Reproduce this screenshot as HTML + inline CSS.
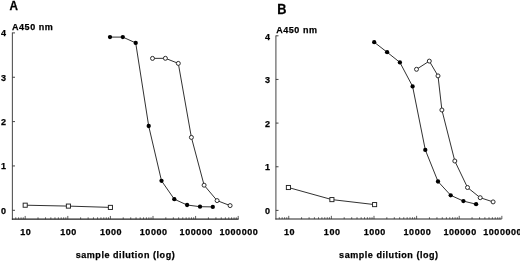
<!DOCTYPE html>
<html><head><meta charset="utf-8"><style>
html,body{margin:0;padding:0;background:#fff;}
svg{display:block;filter:grayscale(1);}
text{font-family:"Liberation Sans", sans-serif;font-weight:bold;fill:#000;stroke:#000;stroke-width:0.25px;}
</style></head><body>
<svg width="520" height="261" viewBox="0 0 520 261">
<rect width="520" height="261" fill="#fff"/>
<line x1="12.40" y1="32.60" x2="12.40" y2="219.65" stroke="#555" stroke-width="1.1"/>
<line x1="11.90" y1="219.15" x2="238.60" y2="219.15" stroke="#222" stroke-width="1.1"/>
<line x1="12.40" y1="210.30" x2="15.00" y2="210.30" stroke="#333" stroke-width="0.9"/>
<text x="6.00" y="213.60" font-size="9.0" text-anchor="end" letter-spacing="0">0</text>
<line x1="12.40" y1="165.95" x2="15.00" y2="165.95" stroke="#333" stroke-width="0.9"/>
<text x="6.00" y="169.25" font-size="9.0" text-anchor="end" letter-spacing="0">1</text>
<line x1="12.40" y1="121.60" x2="15.00" y2="121.60" stroke="#333" stroke-width="0.9"/>
<text x="6.00" y="124.90" font-size="9.0" text-anchor="end" letter-spacing="0">2</text>
<line x1="12.40" y1="77.25" x2="15.00" y2="77.25" stroke="#333" stroke-width="0.9"/>
<text x="6.00" y="80.55" font-size="9.0" text-anchor="end" letter-spacing="0">3</text>
<line x1="12.40" y1="32.90" x2="15.00" y2="32.90" stroke="#333" stroke-width="0.9"/>
<text x="6.00" y="36.20" font-size="9.0" text-anchor="end" letter-spacing="0">4</text>
<line x1="15.75" y1="219.15" x2="15.75" y2="217.35" stroke="#333" stroke-width="0.8"/>
<line x1="18.60" y1="219.15" x2="18.60" y2="217.35" stroke="#333" stroke-width="0.8"/>
<line x1="21.07" y1="219.15" x2="21.07" y2="217.35" stroke="#333" stroke-width="0.8"/>
<line x1="23.25" y1="219.15" x2="23.25" y2="217.35" stroke="#333" stroke-width="0.8"/>
<line x1="25.20" y1="219.15" x2="25.20" y2="215.95" stroke="#333" stroke-width="0.8"/>
<line x1="38.02" y1="219.15" x2="38.02" y2="217.35" stroke="#333" stroke-width="0.8"/>
<line x1="45.53" y1="219.15" x2="45.53" y2="217.35" stroke="#333" stroke-width="0.8"/>
<line x1="50.85" y1="219.15" x2="50.85" y2="217.35" stroke="#333" stroke-width="0.8"/>
<line x1="54.98" y1="219.15" x2="54.98" y2="217.35" stroke="#333" stroke-width="0.8"/>
<line x1="58.35" y1="219.15" x2="58.35" y2="217.35" stroke="#333" stroke-width="0.8"/>
<line x1="61.20" y1="219.15" x2="61.20" y2="217.35" stroke="#333" stroke-width="0.8"/>
<line x1="63.67" y1="219.15" x2="63.67" y2="217.35" stroke="#333" stroke-width="0.8"/>
<line x1="65.85" y1="219.15" x2="65.85" y2="217.35" stroke="#333" stroke-width="0.8"/>
<text x="25.88" y="235.30" font-size="9.0" text-anchor="middle" letter-spacing="0.55">10</text>
<line x1="67.80" y1="219.15" x2="67.80" y2="215.95" stroke="#333" stroke-width="0.8"/>
<line x1="80.62" y1="219.15" x2="80.62" y2="217.35" stroke="#333" stroke-width="0.8"/>
<line x1="88.13" y1="219.15" x2="88.13" y2="217.35" stroke="#333" stroke-width="0.8"/>
<line x1="93.45" y1="219.15" x2="93.45" y2="217.35" stroke="#333" stroke-width="0.8"/>
<line x1="97.58" y1="219.15" x2="97.58" y2="217.35" stroke="#333" stroke-width="0.8"/>
<line x1="100.95" y1="219.15" x2="100.95" y2="217.35" stroke="#333" stroke-width="0.8"/>
<line x1="103.80" y1="219.15" x2="103.80" y2="217.35" stroke="#333" stroke-width="0.8"/>
<line x1="106.27" y1="219.15" x2="106.27" y2="217.35" stroke="#333" stroke-width="0.8"/>
<line x1="108.45" y1="219.15" x2="108.45" y2="217.35" stroke="#333" stroke-width="0.8"/>
<text x="68.48" y="235.30" font-size="9.0" text-anchor="middle" letter-spacing="0.55">100</text>
<line x1="110.40" y1="219.15" x2="110.40" y2="215.95" stroke="#333" stroke-width="0.8"/>
<line x1="123.22" y1="219.15" x2="123.22" y2="217.35" stroke="#333" stroke-width="0.8"/>
<line x1="130.73" y1="219.15" x2="130.73" y2="217.35" stroke="#333" stroke-width="0.8"/>
<line x1="136.05" y1="219.15" x2="136.05" y2="217.35" stroke="#333" stroke-width="0.8"/>
<line x1="140.18" y1="219.15" x2="140.18" y2="217.35" stroke="#333" stroke-width="0.8"/>
<line x1="143.55" y1="219.15" x2="143.55" y2="217.35" stroke="#333" stroke-width="0.8"/>
<line x1="146.40" y1="219.15" x2="146.40" y2="217.35" stroke="#333" stroke-width="0.8"/>
<line x1="148.87" y1="219.15" x2="148.87" y2="217.35" stroke="#333" stroke-width="0.8"/>
<line x1="151.05" y1="219.15" x2="151.05" y2="217.35" stroke="#333" stroke-width="0.8"/>
<text x="111.08" y="235.30" font-size="9.0" text-anchor="middle" letter-spacing="0.55">1000</text>
<line x1="153.00" y1="219.15" x2="153.00" y2="215.95" stroke="#333" stroke-width="0.8"/>
<line x1="165.82" y1="219.15" x2="165.82" y2="217.35" stroke="#333" stroke-width="0.8"/>
<line x1="173.33" y1="219.15" x2="173.33" y2="217.35" stroke="#333" stroke-width="0.8"/>
<line x1="178.65" y1="219.15" x2="178.65" y2="217.35" stroke="#333" stroke-width="0.8"/>
<line x1="182.78" y1="219.15" x2="182.78" y2="217.35" stroke="#333" stroke-width="0.8"/>
<line x1="186.15" y1="219.15" x2="186.15" y2="217.35" stroke="#333" stroke-width="0.8"/>
<line x1="189.00" y1="219.15" x2="189.00" y2="217.35" stroke="#333" stroke-width="0.8"/>
<line x1="191.47" y1="219.15" x2="191.47" y2="217.35" stroke="#333" stroke-width="0.8"/>
<line x1="193.65" y1="219.15" x2="193.65" y2="217.35" stroke="#333" stroke-width="0.8"/>
<text x="153.68" y="235.30" font-size="9.0" text-anchor="middle" letter-spacing="0.55">10000</text>
<line x1="195.60" y1="219.15" x2="195.60" y2="215.95" stroke="#333" stroke-width="0.8"/>
<line x1="208.42" y1="219.15" x2="208.42" y2="217.35" stroke="#333" stroke-width="0.8"/>
<line x1="215.93" y1="219.15" x2="215.93" y2="217.35" stroke="#333" stroke-width="0.8"/>
<line x1="221.25" y1="219.15" x2="221.25" y2="217.35" stroke="#333" stroke-width="0.8"/>
<line x1="225.38" y1="219.15" x2="225.38" y2="217.35" stroke="#333" stroke-width="0.8"/>
<line x1="228.75" y1="219.15" x2="228.75" y2="217.35" stroke="#333" stroke-width="0.8"/>
<line x1="231.60" y1="219.15" x2="231.60" y2="217.35" stroke="#333" stroke-width="0.8"/>
<line x1="234.07" y1="219.15" x2="234.07" y2="217.35" stroke="#333" stroke-width="0.8"/>
<line x1="236.25" y1="219.15" x2="236.25" y2="217.35" stroke="#333" stroke-width="0.8"/>
<text x="196.28" y="235.30" font-size="9.0" text-anchor="middle" letter-spacing="0.55">100000</text>
<line x1="238.20" y1="219.15" x2="238.20" y2="215.95" stroke="#333" stroke-width="0.8"/>
<text x="238.88" y="235.30" font-size="9.0" text-anchor="middle" letter-spacing="0.55">1000000</text>
<text x="125.48" y="258.40" font-size="9.0" text-anchor="middle" letter-spacing="0.55">sample dilution (log)</text>
<text x="12.00" y="30.00" font-size="9.0" text-anchor="start" letter-spacing="0.55">A450 nm</text>
<text transform="translate(9.5,9.6) scale(0.96,1)" font-size="12.2">A</text>
<polyline fill="none" stroke="#262626" stroke-width="0.95" points="25.20,205.20 68.40,206.10 110.40,207.40"/>
<polyline fill="none" stroke="#262626" stroke-width="0.95" points="110.00,37.10 122.80,37.10 135.70,42.90 148.70,126.00 161.50,180.80 174.30,199.20 187.10,205.00 200.00,206.70 212.80,206.90"/>
<polyline fill="none" stroke="#262626" stroke-width="0.95" points="152.50,58.40 165.40,58.30 178.30,63.40 191.40,137.40 204.10,185.20 217.10,200.60 230.10,205.60"/>
<rect x="23.15" y="203.15" width="4.1" height="4.1" fill="#fff" stroke="#222" stroke-width="0.95"/>
<rect x="66.35" y="204.05" width="4.1" height="4.1" fill="#fff" stroke="#222" stroke-width="0.95"/>
<rect x="108.35" y="205.35" width="4.1" height="4.1" fill="#fff" stroke="#222" stroke-width="0.95"/>
<circle cx="110.00" cy="37.10" r="2.15" fill="#000"/>
<circle cx="122.80" cy="37.10" r="2.15" fill="#000"/>
<circle cx="135.70" cy="42.90" r="2.15" fill="#000"/>
<circle cx="148.70" cy="126.00" r="2.15" fill="#000"/>
<circle cx="161.50" cy="180.80" r="2.15" fill="#000"/>
<circle cx="174.30" cy="199.20" r="2.15" fill="#000"/>
<circle cx="187.10" cy="205.00" r="2.15" fill="#000"/>
<circle cx="200.00" cy="206.70" r="2.15" fill="#000"/>
<circle cx="212.80" cy="206.90" r="2.15" fill="#000"/>
<circle cx="152.50" cy="58.40" r="2.0" fill="#fff" stroke="#222" stroke-width="0.95"/>
<circle cx="165.40" cy="58.30" r="2.0" fill="#fff" stroke="#222" stroke-width="0.95"/>
<circle cx="178.30" cy="63.40" r="2.0" fill="#fff" stroke="#222" stroke-width="0.95"/>
<circle cx="191.40" cy="137.40" r="2.0" fill="#fff" stroke="#222" stroke-width="0.95"/>
<circle cx="204.10" cy="185.20" r="2.0" fill="#fff" stroke="#222" stroke-width="0.95"/>
<circle cx="217.10" cy="200.60" r="2.0" fill="#fff" stroke="#222" stroke-width="0.95"/>
<circle cx="230.10" cy="205.60" r="2.0" fill="#fff" stroke="#222" stroke-width="0.95"/>
<line x1="275.90" y1="35.60" x2="275.90" y2="219.55" stroke="#555" stroke-width="1.1"/>
<line x1="275.40" y1="219.05" x2="501.60" y2="219.05" stroke="#222" stroke-width="1.1"/>
<line x1="275.90" y1="210.40" x2="278.50" y2="210.40" stroke="#333" stroke-width="0.9"/>
<text x="270.00" y="214.10" font-size="9.0" text-anchor="end" letter-spacing="0">0</text>
<line x1="275.90" y1="166.75" x2="278.50" y2="166.75" stroke="#333" stroke-width="0.9"/>
<text x="270.00" y="170.45" font-size="9.0" text-anchor="end" letter-spacing="0">1</text>
<line x1="275.90" y1="123.10" x2="278.50" y2="123.10" stroke="#333" stroke-width="0.9"/>
<text x="270.00" y="126.80" font-size="9.0" text-anchor="end" letter-spacing="0">2</text>
<line x1="275.90" y1="79.45" x2="278.50" y2="79.45" stroke="#333" stroke-width="0.9"/>
<text x="270.00" y="83.15" font-size="9.0" text-anchor="end" letter-spacing="0">3</text>
<line x1="275.90" y1="35.80" x2="278.50" y2="35.80" stroke="#333" stroke-width="0.9"/>
<text x="270.00" y="39.50" font-size="9.0" text-anchor="end" letter-spacing="0">4</text>
<line x1="279.29" y1="219.05" x2="279.29" y2="217.25" stroke="#333" stroke-width="0.8"/>
<line x1="282.15" y1="219.05" x2="282.15" y2="217.25" stroke="#333" stroke-width="0.8"/>
<line x1="284.62" y1="219.05" x2="284.62" y2="217.25" stroke="#333" stroke-width="0.8"/>
<line x1="286.80" y1="219.05" x2="286.80" y2="217.25" stroke="#333" stroke-width="0.8"/>
<line x1="288.75" y1="219.05" x2="288.75" y2="215.85" stroke="#333" stroke-width="0.8"/>
<line x1="301.58" y1="219.05" x2="301.58" y2="217.25" stroke="#333" stroke-width="0.8"/>
<line x1="309.08" y1="219.05" x2="309.08" y2="217.25" stroke="#333" stroke-width="0.8"/>
<line x1="314.41" y1="219.05" x2="314.41" y2="217.25" stroke="#333" stroke-width="0.8"/>
<line x1="318.54" y1="219.05" x2="318.54" y2="217.25" stroke="#333" stroke-width="0.8"/>
<line x1="321.91" y1="219.05" x2="321.91" y2="217.25" stroke="#333" stroke-width="0.8"/>
<line x1="324.77" y1="219.05" x2="324.77" y2="217.25" stroke="#333" stroke-width="0.8"/>
<line x1="327.24" y1="219.05" x2="327.24" y2="217.25" stroke="#333" stroke-width="0.8"/>
<line x1="329.42" y1="219.05" x2="329.42" y2="217.25" stroke="#333" stroke-width="0.8"/>
<text x="289.57" y="235.30" font-size="9.0" text-anchor="middle" letter-spacing="0.55">10</text>
<line x1="331.37" y1="219.05" x2="331.37" y2="215.85" stroke="#333" stroke-width="0.8"/>
<line x1="344.20" y1="219.05" x2="344.20" y2="217.25" stroke="#333" stroke-width="0.8"/>
<line x1="351.70" y1="219.05" x2="351.70" y2="217.25" stroke="#333" stroke-width="0.8"/>
<line x1="357.03" y1="219.05" x2="357.03" y2="217.25" stroke="#333" stroke-width="0.8"/>
<line x1="361.16" y1="219.05" x2="361.16" y2="217.25" stroke="#333" stroke-width="0.8"/>
<line x1="364.53" y1="219.05" x2="364.53" y2="217.25" stroke="#333" stroke-width="0.8"/>
<line x1="367.39" y1="219.05" x2="367.39" y2="217.25" stroke="#333" stroke-width="0.8"/>
<line x1="369.86" y1="219.05" x2="369.86" y2="217.25" stroke="#333" stroke-width="0.8"/>
<line x1="372.04" y1="219.05" x2="372.04" y2="217.25" stroke="#333" stroke-width="0.8"/>
<text x="332.19" y="235.30" font-size="9.0" text-anchor="middle" letter-spacing="0.55">100</text>
<line x1="373.99" y1="219.05" x2="373.99" y2="215.85" stroke="#333" stroke-width="0.8"/>
<line x1="386.82" y1="219.05" x2="386.82" y2="217.25" stroke="#333" stroke-width="0.8"/>
<line x1="394.32" y1="219.05" x2="394.32" y2="217.25" stroke="#333" stroke-width="0.8"/>
<line x1="399.65" y1="219.05" x2="399.65" y2="217.25" stroke="#333" stroke-width="0.8"/>
<line x1="403.78" y1="219.05" x2="403.78" y2="217.25" stroke="#333" stroke-width="0.8"/>
<line x1="407.15" y1="219.05" x2="407.15" y2="217.25" stroke="#333" stroke-width="0.8"/>
<line x1="410.01" y1="219.05" x2="410.01" y2="217.25" stroke="#333" stroke-width="0.8"/>
<line x1="412.48" y1="219.05" x2="412.48" y2="217.25" stroke="#333" stroke-width="0.8"/>
<line x1="414.66" y1="219.05" x2="414.66" y2="217.25" stroke="#333" stroke-width="0.8"/>
<text x="374.81" y="235.30" font-size="9.0" text-anchor="middle" letter-spacing="0.55">1000</text>
<line x1="416.61" y1="219.05" x2="416.61" y2="215.85" stroke="#333" stroke-width="0.8"/>
<line x1="429.44" y1="219.05" x2="429.44" y2="217.25" stroke="#333" stroke-width="0.8"/>
<line x1="436.94" y1="219.05" x2="436.94" y2="217.25" stroke="#333" stroke-width="0.8"/>
<line x1="442.27" y1="219.05" x2="442.27" y2="217.25" stroke="#333" stroke-width="0.8"/>
<line x1="446.40" y1="219.05" x2="446.40" y2="217.25" stroke="#333" stroke-width="0.8"/>
<line x1="449.77" y1="219.05" x2="449.77" y2="217.25" stroke="#333" stroke-width="0.8"/>
<line x1="452.63" y1="219.05" x2="452.63" y2="217.25" stroke="#333" stroke-width="0.8"/>
<line x1="455.10" y1="219.05" x2="455.10" y2="217.25" stroke="#333" stroke-width="0.8"/>
<line x1="457.28" y1="219.05" x2="457.28" y2="217.25" stroke="#333" stroke-width="0.8"/>
<text x="417.43" y="235.30" font-size="9.0" text-anchor="middle" letter-spacing="0.55">10000</text>
<line x1="459.23" y1="219.05" x2="459.23" y2="215.85" stroke="#333" stroke-width="0.8"/>
<line x1="472.06" y1="219.05" x2="472.06" y2="217.25" stroke="#333" stroke-width="0.8"/>
<line x1="479.56" y1="219.05" x2="479.56" y2="217.25" stroke="#333" stroke-width="0.8"/>
<line x1="484.89" y1="219.05" x2="484.89" y2="217.25" stroke="#333" stroke-width="0.8"/>
<line x1="489.02" y1="219.05" x2="489.02" y2="217.25" stroke="#333" stroke-width="0.8"/>
<line x1="492.39" y1="219.05" x2="492.39" y2="217.25" stroke="#333" stroke-width="0.8"/>
<line x1="495.25" y1="219.05" x2="495.25" y2="217.25" stroke="#333" stroke-width="0.8"/>
<line x1="497.72" y1="219.05" x2="497.72" y2="217.25" stroke="#333" stroke-width="0.8"/>
<line x1="499.90" y1="219.05" x2="499.90" y2="217.25" stroke="#333" stroke-width="0.8"/>
<text x="460.05" y="235.30" font-size="9.0" text-anchor="middle" letter-spacing="0.55">100000</text>
<line x1="501.85" y1="219.05" x2="501.85" y2="215.85" stroke="#333" stroke-width="0.8"/>
<text x="502.67" y="235.30" font-size="9.0" text-anchor="middle" letter-spacing="0.55">1000000</text>
<text x="388.88" y="258.40" font-size="9.0" text-anchor="middle" letter-spacing="0.55">sample dilution (log)</text>
<text x="276.20" y="33.00" font-size="9.0" text-anchor="start" letter-spacing="0.55">A450 nm</text>
<text transform="translate(277.3,13.6) scale(0.92,1)" font-size="13.9">B</text>
<polyline fill="none" stroke="#262626" stroke-width="0.95" points="288.40,187.50 331.90,199.60 374.60,204.60"/>
<polyline fill="none" stroke="#262626" stroke-width="0.95" points="374.20,42.20 387.10,52.20 399.90,62.40 412.60,86.40 425.30,149.90 438.00,181.50 450.70,195.30 463.40,201.10 476.10,204.20"/>
<polyline fill="none" stroke="#262626" stroke-width="0.95" points="416.50,69.30 429.30,61.10 438.00,75.90 441.90,110.00 454.80,161.00 467.50,187.50 480.20,197.70 493.10,201.90"/>
<rect x="286.35" y="185.45" width="4.1" height="4.1" fill="#fff" stroke="#222" stroke-width="0.95"/>
<rect x="329.85" y="197.55" width="4.1" height="4.1" fill="#fff" stroke="#222" stroke-width="0.95"/>
<rect x="372.55" y="202.55" width="4.1" height="4.1" fill="#fff" stroke="#222" stroke-width="0.95"/>
<circle cx="374.20" cy="42.20" r="2.15" fill="#000"/>
<circle cx="387.10" cy="52.20" r="2.15" fill="#000"/>
<circle cx="399.90" cy="62.40" r="2.15" fill="#000"/>
<circle cx="412.60" cy="86.40" r="2.15" fill="#000"/>
<circle cx="425.30" cy="149.90" r="2.15" fill="#000"/>
<circle cx="438.00" cy="181.50" r="2.15" fill="#000"/>
<circle cx="450.70" cy="195.30" r="2.15" fill="#000"/>
<circle cx="463.40" cy="201.10" r="2.15" fill="#000"/>
<circle cx="476.10" cy="204.20" r="2.15" fill="#000"/>
<circle cx="416.50" cy="69.30" r="2.0" fill="#fff" stroke="#222" stroke-width="0.95"/>
<circle cx="429.30" cy="61.10" r="2.0" fill="#fff" stroke="#222" stroke-width="0.95"/>
<circle cx="438.00" cy="75.90" r="2.0" fill="#fff" stroke="#222" stroke-width="0.95"/>
<circle cx="441.90" cy="110.00" r="2.0" fill="#fff" stroke="#222" stroke-width="0.95"/>
<circle cx="454.80" cy="161.00" r="2.0" fill="#fff" stroke="#222" stroke-width="0.95"/>
<circle cx="467.50" cy="187.50" r="2.0" fill="#fff" stroke="#222" stroke-width="0.95"/>
<circle cx="480.20" cy="197.70" r="2.0" fill="#fff" stroke="#222" stroke-width="0.95"/>
<circle cx="493.10" cy="201.90" r="2.0" fill="#fff" stroke="#222" stroke-width="0.95"/>
</svg>
</body></html>
